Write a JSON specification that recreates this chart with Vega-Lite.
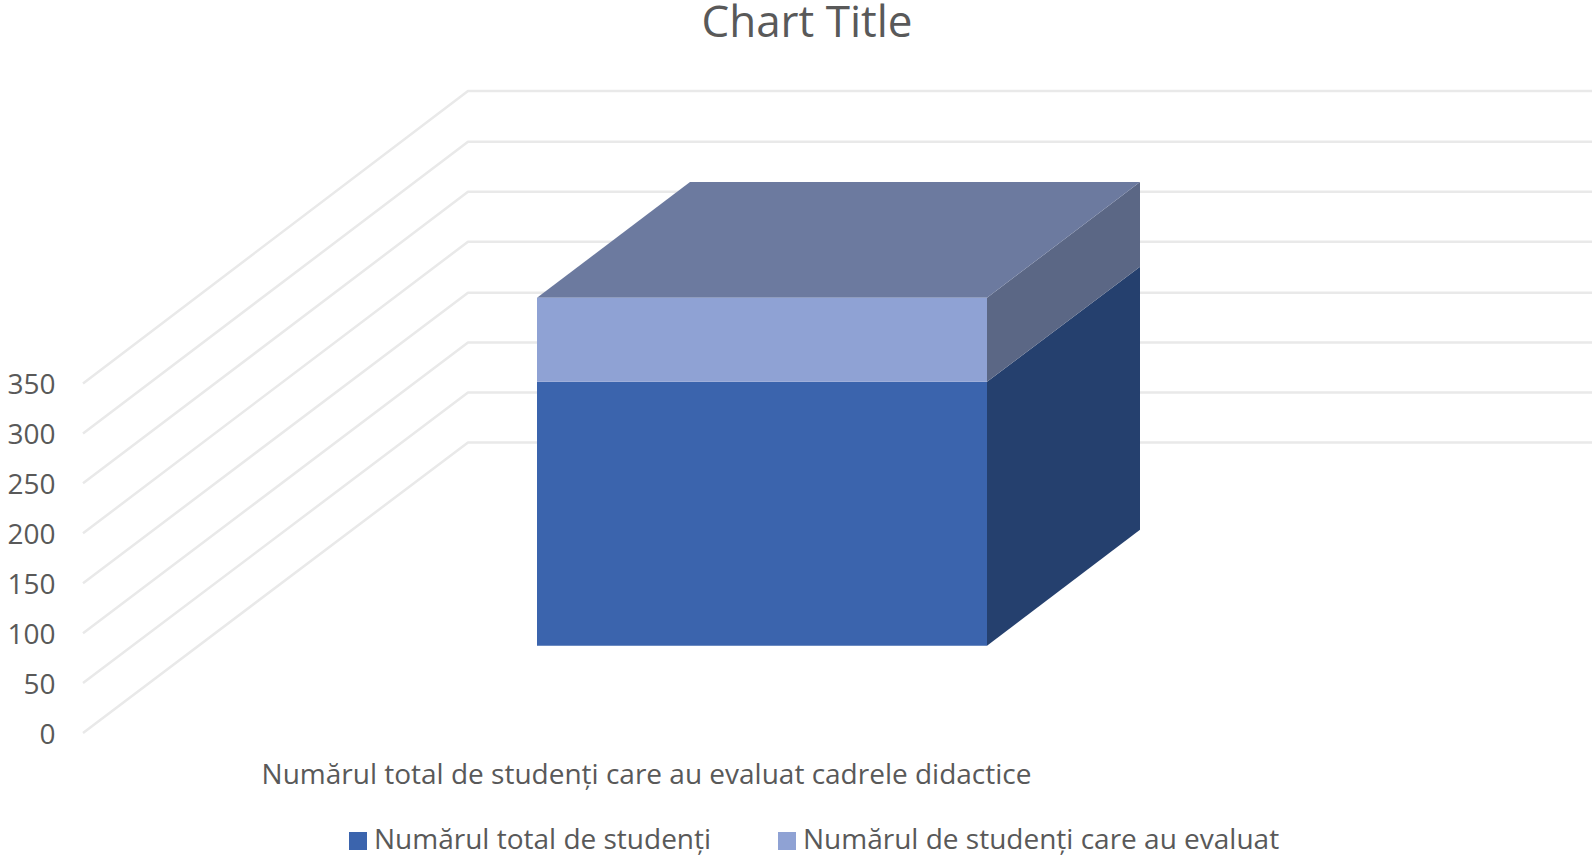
{
"$schema":"https://vega.github.io/schema/vega-lite/v6.json",
"width":1512,"height":699,
"autosize":{"type":"none"},
"padding":{"left":83,"top":34,"right":0,"bottom":124},
"background":"#ffffff",
"title":{"text":"Chart Title","anchor":"middle","frame":"group","dx":-32,"offset":-12,"fontSize":44,"font":"Open Sans","fontWeight":"normal","color":"#595959"},
"datasets":{
"grid":[
{"level":0,"across":0,"height":0},{"level":0,"across":385,"height":291},{"level":0,"across":1509,"height":291},
{"level":50,"across":0,"height":50},{"level":50,"across":385,"height":341},{"level":50,"across":1509,"height":341},
{"level":100,"across":0,"height":100},{"level":100,"across":385,"height":391},{"level":100,"across":1509,"height":391},
{"level":150,"across":0,"height":150},{"level":150,"across":385,"height":441},{"level":150,"across":1509,"height":441},
{"level":200,"across":0,"height":200},{"level":200,"across":385,"height":492},{"level":200,"across":1509,"height":492},
{"level":250,"across":0,"height":250},{"level":250,"across":385,"height":542},{"level":250,"across":1509,"height":542},
{"level":300,"across":0,"height":300},{"level":300,"across":385,"height":592},{"level":300,"across":1509,"height":592},
{"level":350,"across":0,"height":350},{"level":350,"across":385,"height":643},{"level":350,"across":1509,"height":643}
],
"front":[
{"series":"Numărul total de studenți","value":264,"left":454,"right":904,"low":87.4,"high":351.8},
{"series":"Numărul de studenți care au evaluat","value":84,"left":454,"right":904,"low":351.8,"high":435.9}
],
"sideLower":[
{"across":904,"low":87.4,"high":351.8},
{"across":1057,"low":203.6,"high":467}
],
"sideUpper":[
{"across":904,"low":351.8,"high":435.9},
{"across":1057,"low":467,"high":551.7}
],
"top":[
{"height":435.9,"left":454,"right":904},
{"height":551.7,"left":607,"right":1057}
]
},
"encoding":{
"x":{"type":"quantitative","scale":{"domain":[0,1512],"nice":false,"zero":false},
"axis":{"title":"Numărul total de studenți care au evaluat cadrele didactice","domain":false,"ticks":false,"labels":false,"grid":false,"titleX":563,"titleY":28.5,"titleAnchor":"middle","titleFontSize":28,"titleFont":"Open Sans","titleFontWeight":"normal","titleColor":"#595959"}},
"y":{"type":"quantitative","scale":{"domain":[0,700],"nice":false,"zero":false},
"axis":{"title":null,"values":[0,50,100,150,200,250,300,350],"domain":false,"ticks":false,"grid":false,"labelPadding":28,"labelOffset":2,"labelFontSize":28,"labelFont":"Open Sans","labelColor":"#595959"}}
},
"layer":[
{"data":{"name":"grid"},
"mark":{"type":"line","color":"#e9e9e9","strokeWidth":2.5,"strokeJoin":"round"},
"encoding":{
"detail":{"field":"level"},
"x":{"field":"across","type":"quantitative"},
"y":{"field":"height","type":"quantitative"}
}},
{"data":{"name":"sideLower"},
"mark":{"type":"area","color":"#25406e"},
"encoding":{
"x":{"field":"across","type":"quantitative"},
"y":{"field":"low","type":"quantitative"},
"y2":{"field":"high"}
}},
{"data":{"name":"sideUpper"},
"mark":{"type":"area","color":"#5b6785"},
"encoding":{
"x":{"field":"across","type":"quantitative"},
"y":{"field":"low","type":"quantitative"},
"y2":{"field":"high"}
}},
{"data":{"name":"top"},
"mark":{"type":"area","orient":"horizontal","color":"#6c7a9f"},
"encoding":{
"y":{"field":"height","type":"quantitative"},
"x":{"field":"left","type":"quantitative"},
"x2":{"field":"right"}
}},
{"data":{"name":"front"},
"mark":{"type":"rect"},
"encoding":{
"x":{"field":"left","type":"quantitative"},
"x2":{"field":"right"},
"y":{"field":"low","type":"quantitative"},
"y2":{"field":"high"},
"color":{"field":"series","type":"nominal","scale":{"domain":["Numărul total de studenți","Numărul de studenți care au evaluat"],"range":["#3b64ad","#8fa2d4"]},
"legend":{"title":null,"orient":"none","legendX":261,"legendY":793,"direction":"horizontal","columns":2,"columnPadding":61,"symbolType":"square","symbolSize":324,"symbolStrokeWidth":0,"labelFontSize":28,"labelFont":"Open Sans","labelColor":"#595959","labelLimit":600,"labelOffset":2}}
}}
],
"config":{"view":{"stroke":null}}
}
